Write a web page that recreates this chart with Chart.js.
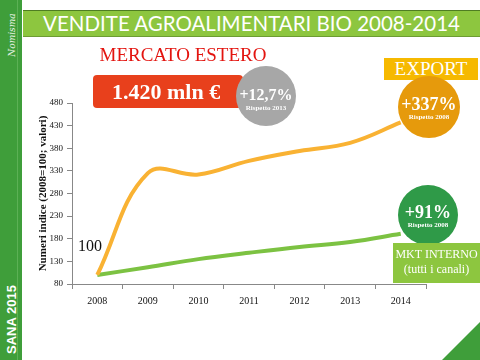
<!DOCTYPE html>
<html>
<head>
<meta charset="utf-8">
<script src="https://cdn.jsdelivr.net/npm/chart.js@4"></script>
<style>
  html, body { margin: 0; padding: 0; background: #fff; }
  #wrap { position: relative; width: 480px; height: 360px; overflow: hidden; background: #fff; }
  #chart { position: absolute; left: 0; top: 0; }
  .abs { position: absolute; }
  .strip { left: 0; top: 0; width: 22px; height: 360px; background: #3f9e3a; }
  .strip-line { left: 17px; top: 0; width: 1px; height: 360px; background: #5cb155; }
  .logo { left: -16px; top: 30px; width: 56px; transform: rotate(-90deg); color: #e8f3e3;
          font: italic 9px "DejaVu Serif", serif; text-align: center; }
  .sana { left: -27px; top: 312px; width: 76px; transform: rotate(-90deg); color: #fff;
          font: bold 13px "Liberation Sans", Arial, sans-serif; text-align: center; }
  .title { left: 23px; top: 10px; width: 457px; height: 25px; background: #8dc63f;
           border-top: 1px solid #4f7d22; border-bottom: 1px solid #6d9c33; color: #fff;
           font: 20.5px "Lato", sans-serif; line-height: 25px; text-align: center; white-space: nowrap; }
  .serif { font-family: "Liberation Serif", "DejaVu Serif", serif; }
  .mercato { left: 70px; top: 44px; width: 226px; text-align: center; color: #e3140f; font-size: 19px;
             white-space: nowrap; }
  .redbox { left: 93px; top: 75px; width: 150px; height: 33px; background: #e8401c; border-radius: 4px;
            color: #fff; font-weight: bold; font-size: 22px; line-height: 33px; text-align: left; text-indent: 19px;
            white-space: nowrap; }
  .circle { border-radius: 50%; color: #fff; text-align: center; box-sizing: border-box; white-space: nowrap; }
  .circle .big { font-weight: bold; font-size: 18px; line-height: 18px; }
  .circle .small { font-weight: bold; font-size: 7px; line-height: 9px; }
  .export { left: 384px; top: 58px; width: 94px; height: 22px; background: #f6b900; color: #fff;
            font-size: 19px; line-height: 22px; text-align: center; }
  .mkt { left: 393px; top: 243px; width: 87px; height: 40px; background: #8dc63f; color: #fff;
         font-size: 12px; line-height: 15px; padding-top: 4px; box-sizing: border-box; text-align: center; }
  .hundred { left: 78px; top: 237px; font: 16px "Liberation Serif", serif; color: #111; }
  .tri { right: 0; bottom: 0; width: 0; height: 0; border-style: solid;
         border-width: 0 0 38px 38px; border-color: transparent transparent #3f9e3a transparent; }
</style>
</head>
<body>
<div id="wrap">
  <canvas id="chart" width="480" height="360"></canvas>
  <div class="abs strip"></div>
  <div class="abs strip-line"></div>
  <div class="abs logo">Nomisma</div>
  <div class="abs sana">SANA 2015</div>
  <div class="abs title">VENDITE AGROALIMENTARI BIO 2008-2014</div>
  <div class="abs mercato serif">MERCATO ESTERO</div>
  <div class="abs redbox serif">1.420 mln €</div>
  <div class="abs circle serif" style="left:236px;top:66px;width:60px;height:60px;background:#a7a7a7;padding-top:20px;">
    <div class="big" style="font-size:16px;">+12,7%</div><div class="small">Rispetto 2013</div></div>
  <div class="abs export serif">EXPORT</div>
  <div class="abs circle serif" style="left:398px;top:76px;width:62px;height:62px;background:#e69a0c;padding-top:19px;">
    <div class="big">+337%</div><div class="small">Rispetto 2008</div></div>
  <div class="abs circle serif" style="left:398px;top:185px;width:60px;height:60px;background:#2f9a48;padding-top:18px;">
    <div class="big">+91%</div><div class="small">Rispetto 2008</div></div>
  <div class="abs mkt serif">MKT INTERNO<br>(tutti i canali)</div>
  <div class="abs hundred">100</div>
  <div class="abs tri"></div>
</div>
<script>
// data (index 2008 = 100)
const years = ["2008", "2009", "2010", "2011", "2012", "2013", "2014"];
const exportValues = [100, 325, 322, 352, 374, 392, 437];
const internoValues = [100, 117, 135, 149, 162, 173, 191];
const yTicks = [80, 130, 180, 230, 280, 330, 380, 430, 480];

const ctx = document.getElementById("chart").getContext("2d");
const chart = new Chart(ctx, {
  type: "line",
  data: {
    labels: years,
    datasets: [
      {
        label: "Export",
        data: exportValues,
        borderColor: "#f9b233",
        borderWidth: 4,
        pointRadius: 0,
        tension: 0.4,
      },
      {
        label: "MKT interno",
        data: internoValues,
        borderColor: "#7cc242",
        borderWidth: 4,
        pointRadius: 0,
        tension: 0.4,
      },
    ],
  },
  options: {
    responsive: false,
    animation: false,
    layout: { padding: { left: 37, right: 54, top: 103, bottom: 40 } },
    plugins: { legend: { display: false }, tooltip: { enabled: false } },
    scales: {
      x: {
        offset: true,
        grid: { drawOnChartArea: false, offset: true, tickLength: 5, color: "#888" },
        border: { color: "#888" },
        ticks: { color: "#111", font: { family: "Liberation Serif", size: 10 }, padding: 6 },
        afterFit: (s) => { s.height = 36; },
      },
      y: {
        min: 80,
        max: 480,
        afterBuildTicks: (s) => { s.ticks = yTicks.map((v) => ({ value: v })); },
        grid: { drawOnChartArea: false, tickLength: 5, color: "#888" },
        border: { color: "#888" },
        ticks: { color: "#111", font: { family: "Liberation Serif", size: 9 }, padding: 4 },
        title: {
          display: true,
          text: "Numeri indice (2008=100; valori)",
          color: "#111",
          font: { family: "Liberation Serif", size: 11, weight: "bold" },
          padding: 0,
        },
        afterFit: (s) => { s.width = 35; },
      },
    },
  },
});
</script>
</body>
</html>
